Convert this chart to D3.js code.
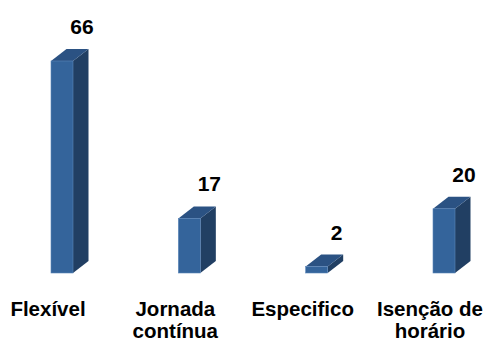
<!DOCTYPE html>
<html>
<head>
<meta charset="utf-8">
<script src="https://cdn.jsdelivr.net/npm/d3@7"></script>
<style>
  html, body { margin: 0; padding: 0; background: #fff; }
  svg { display: block; }
  text { font-family: "Liberation Sans", Arial, sans-serif; font-weight: bold; }
</style>
</head>
<body>
<svg id="chart" width="486" height="341"></svg>
<script>
// Horário de trabalho: número de respostas por tipo
const categories = ["Flexível", "Jornada contínua", "Especifico", "Isenção de horário"];
const labelLines = [["Flexível"], ["Jornada", "contínua"], ["Especifico"], ["Isenção de", "horário"]];
const values = [66, 17, 2, 20];

const W = 486, H = 341;
const baseline = 273;
const depthX = 15.5, depthY = 12;   // oblique offset of the 3D box
const barW = 22;

const svg = d3.select("#chart");

const x = d3.scalePoint().domain(categories).range([48, 430]);
const y = d3.scaleLinear().domain([0, 66]).range([baseline, 61]);

const colors = { front: "#34649b", side: "#213f63", top: "#2b5283", edge: "#5b86ba" };

const bars = svg.append("g").selectAll("g")
  .data(categories.map((c, i) => ({ c, v: values[i] })))
  .join("g");

bars.each(function(d) {
  const g = d3.select(this);
  const x0 = x(d.c) + 3, x1 = x0 + barW;
  const yTop = y(d.v), yBot = y(0);
  // side face
  g.append("path")
    .attr("d", `M${x1},${yTop} L${x1 + depthX},${yTop - depthY} L${x1 + depthX},${yBot - depthY} L${x1},${yBot} Z`)
    .attr("fill", colors.side);
  // top face
  g.append("path")
    .attr("d", `M${x0},${yTop} L${x0 + depthX},${yTop - depthY} L${x1 + depthX},${yTop - depthY} L${x1},${yTop} Z`)
    .attr("fill", colors.top);
  // front face
  g.append("rect")
    .attr("x", x0).attr("y", yTop)
    .attr("width", barW).attr("height", yBot - yTop)
    .attr("fill", colors.front)
    .attr("stroke", colors.edge).attr("stroke-width", 0.6);
  // value label
  g.append("text")
    .attr("x", x0 + 31).attr("y", yTop - 27)
    .attr("text-anchor", "middle")
    .attr("font-size", 21)
    .attr("fill", "#000")
    .text(d.v);
});

// category labels
const labels = svg.append("g").selectAll("text")
  .data(categories.map((c, i) => ({ c, lines: labelLines[i] })))
  .join("text")
  .attr("x", d => x(d.c))
  .attr("y", 315.5)
  .attr("text-anchor", "middle")
  .attr("font-size", 20.5)
  .attr("fill", "#000");

labels.selectAll("tspan")
  .data(d => d.lines.map(l => ({ l, cx: x(d.c) })))
  .join("tspan")
  .attr("x", t => t.cx)
  .attr("dy", (t, i) => i === 0 ? 0 : 22)
  .text(t => t.l);
</script>
</body>
</html>
